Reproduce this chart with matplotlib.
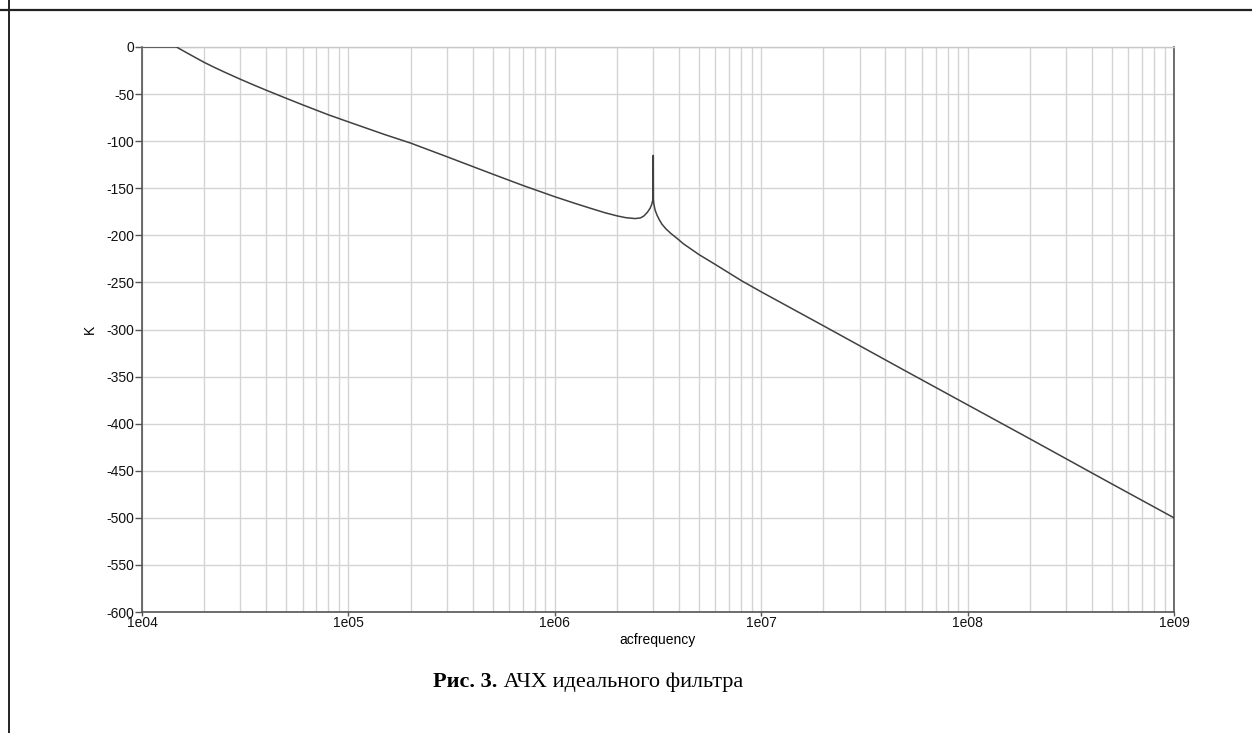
import matplotlib
matplotlib.use("Agg")
import matplotlib.pyplot as plt
from matplotlib.lines import Line2D
from matplotlib.ticker import LogLocator, NullFormatter

# ---- data ----
freq_hz = [1e4, 1.47e4, 1.6e4, 1.8e4, 2e4, 2.25e4, 2.5e4, 3e4, 3.5e4,
           4e4, 5e4, 6e4, 8e4, 1e5, 1.5e5, 2e5, 3e5, 5e5, 7e5,
           1e6, 1.25e6, 1.5e6, 1.75e6, 2e6, 2.2e6, 2.45e6, 2.6e6, 2.7e6, 2.81e6,
           2.9e6, 2.95e6, 2.98e6, 2.995e6, 2.999e6, 3.0e6, 3.001e6, 3.005e6, 3.02e6, 3.06e6,
           3.12e6, 3.2e6, 3.3e6, 3.45e6, 3.65e6, 3.9e6, 4.2e6, 4.6e6, 5e6, 6e6,
           8e6, 1e7, 2e7, 5e7, 1e8, 2e8, 5e8, 1e9]
k_db = [0, 0, -4.6, -10.8, -16.3, -21.8, -26.5, -34.3, -40.6,
        -45.9, -54.5, -61.4, -72, -79.5, -93, -102, -116.5, -135, -147,
        -159, -166, -171.5, -176, -179.3, -181.2, -182.2, -181.5, -179.5, -175.5,
        -171, -167, -163, -160, -120, -115, -125, -162, -167, -173,
        -178, -183, -188, -193, -198, -203, -209, -215, -220.5, -231,
        -248, -260, -296, -344, -380, -416, -464, -500]

x_ticks = [1e4, 1e5, 1e6, 1e7, 1e8, 1e9]
x_tick_labels = ["1e04", "1e05", "1e06", "1e07", "1e08", "1e09"]
y_ticks = [0, -50, -100, -150, -200, -250, -300, -350, -400, -450, -500, -550, -600]
y_tick_labels = ["0", "-50", "-100", "-150", "-200", "-250", "-300", "-350",
                 "-400", "-450", "-500", "-550", "-600"]

x_label = "acfrequency"
y_label = "K"
caption_bold = "Рис. 3."
caption_rest = " АЧХ идеального фильтра"

# ---- figure ----
W, H = 1252, 733
fig = plt.figure(figsize=(W / 100, H / 100), dpi=100)
fig.patch.set_facecolor("white")

ax = fig.add_axes([142 / W, 1 - 612 / H, 1032 / W, 565 / H])
ax.plot(freq_hz, k_db, color="#404040", lw=1.1, zorder=3)
ax.set_xscale("log")
ax.set_xlim(1e4, 1e9)
ax.set_ylim(-600, 0)

ax.set_xticks(x_ticks)
ax.set_xticklabels(x_tick_labels)
ax.xaxis.set_minor_locator(LogLocator(base=10, subs=range(2, 10), numticks=100))
ax.xaxis.set_minor_formatter(NullFormatter())
ax.set_yticks(y_ticks)
ax.set_yticklabels(y_tick_labels)

sans = ["Liberation Sans", "DejaVu Sans"]
for lab in ax.get_xticklabels() + ax.get_yticklabels():
    lab.set_fontfamily(sans)
    lab.set_fontsize(10)
    lab.set_color("#111111")

ax.tick_params(axis="y", which="major", length=5, width=1, color="#555555", pad=0.5)
ax.tick_params(axis="x", which="major", length=3, width=1, color="#555555", pad=0)
ax.tick_params(axis="x", which="minor", length=0)

ax.grid(True, which="major", axis="both", color="#d4d4d4", lw=1, zorder=0)
ax.grid(True, which="minor", axis="x", color="#d4d4d4", lw=1, zorder=0)

for side in ["left", "bottom", "right"]:
    ax.spines[side].set_color("#555555")
    ax.spines[side].set_linewidth(1.2)
ax.spines["top"].set_color("#c8c8c8")
ax.spines["top"].set_linewidth(1.0)

ax.set_xlabel(x_label, fontsize=10, family=sans)
ax.set_ylabel(y_label, fontsize=10, family=sans)
ax.xaxis.set_label_coords(0.5, -(633 - 612) / 565)
ax.yaxis.set_label_coords((97 - 142) / 1032, 0.5)

# caption
cap_y = 1 - 682 / H
cap_fs = 16
serif = ["Liberation Serif", "DejaVu Serif"]
t1 = fig.text(0.5, cap_y, caption_bold, fontsize=cap_fs, fontweight="bold",
              family=serif, ha="left", va="center")
t2 = fig.text(0.5, cap_y, caption_rest, fontsize=cap_fs,
              family=serif, ha="left", va="center")
fig.canvas.draw()
r = fig.canvas.get_renderer()
w1 = t1.get_window_extent(r).width
w2 = t2.get_window_extent(r).width
start = 588 - (w1 + w2) / 2
t1.set_x(start / W)
t2.set_x((start + w1) / W)

# page frame lines
fig.add_artist(Line2D([0, 1], [1 - 10 / H, 1 - 10 / H], color="#222222", lw=1.6,
                      transform=fig.transFigure))
fig.add_artist(Line2D([9 / W, 9 / W], [0, 1], color="#222222", lw=1.4,
                      transform=fig.transFigure))

fig.savefig("out.png", dpi=100)
